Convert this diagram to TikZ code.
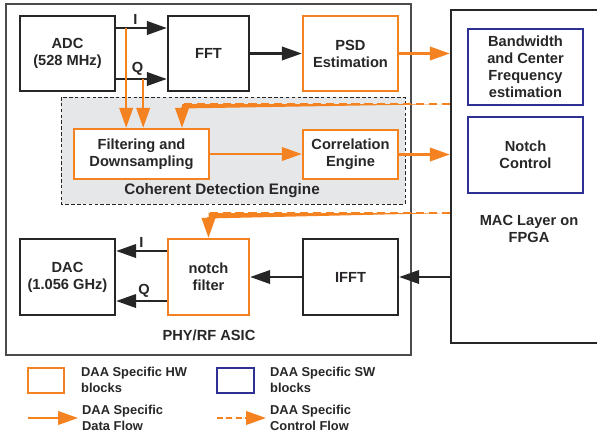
\documentclass[tikz,border=0pt]{standalone}
\usepackage{fontspec}
\setmainfont{Liberation Sans}
\usetikzlibrary{arrows.meta,positioning,calc}
\definecolor{daaorange}{RGB}{245,130,32}
\definecolor{daablue}{RGB}{46,49,146}
\definecolor{cdegray}{RGB}{230,231,232}
\definecolor{txtgray}{RGB}{40,38,40}

\begin{document}
\begin{tikzpicture}[x=0.03cm,y=-0.03cm,
  font=\fontsize{12.5}{14.5}\selectfont\bfseries,
  blk/.style={draw=black!85,line width=2pt,fill=white,align=center,text=txtgray},
  hw/.style={blk,draw=daaorange},
  sw/.style={blk,draw=daablue},
  sig/.style={-{Triangle[length=17pt,width=11.5pt]},line width=1.9pt,draw=black!85,fill=black!85},
  data/.style={-{Triangle[length=17pt,width=11.5pt]},line width=1.9pt,draw=daaorange,fill=daaorange},
  ctrl/.style={data,dash pattern=on 7pt off 4pt},
  lbl/.style={font=\fontsize{11}{14}\selectfont\bfseries,text=txtgray}]
  \useasboundingbox (0,0) rectangle (597,438);
  \clip (0,0) rectangle (597,438);

  % PHY/RF ASIC and coherent detection area
  \draw[black!70,line width=1pt] (6,4) rectangle (411,355);
  \node[text=txtgray] (asiclbl) at (209,335) {PHY/RF ASIC};
  \draw[black!85,line width=0.7pt,fill=cdegray,dash pattern=on 3pt off 2pt] (61,97) rectangle (405,204);
  \node[text=txtgray,font=\fontsize{13}{15}\selectfont\bfseries] (cdelbl) at (222,191) {Coherent Detection Engine};

  % Receive chain
  \node[blk,minimum width=2.85cm,minimum height=2.25cm] (adc) at (67.5,53.5) {ADC\\(528 MHz)};
  \node[blk,minimum width=2.43cm,minimum height=2.25cm] (fft) at (208.5,53.5) {FFT};
  \node[hw,minimum width=2.85cm,minimum height=2.25cm] (psd) at (350.5,53.5) {PSD\\Estimation};
  \node[hw,minimum width=4.05cm,minimum height=1.5cm] (filt) at (141.5,154) {Filtering and\\Downsampling};
  \node[hw,minimum width=2.85cm,minimum height=1.47cm] (corr) at (350.5,154.5) {Correlation\\Engine};

  % Transmit chain
  \node[blk,minimum width=2.85cm,minimum height=2.28cm] (dac) at (67.5,277) {DAC\\(1.056 GHz)};
  \node[hw,minimum width=2.43cm,minimum height=2.28cm] (notch) at (208.5,277) {notch\\filter};
  \node[blk,minimum width=2.85cm,minimum height=2.28cm] (ifft) at (350.5,277) {IFFT};

  % MAC layer
  \node[blk,minimum width=6cm,minimum height=9.99cm] (mac) at (551,176.5) {};
  \node[text=txtgray,align=center] (maclbl) at (529,229) {MAC Layer on\\FPGA};
  \node[sw,minimum width=3.45cm,minimum height=2.28cm] (bw) at (525.5,67) {Bandwidth\\and Center\\Frequency\\estimation};
  \node[sw,minimum width=3.45cm,minimum height=2.28cm] (nctl) at (525.5,155) {Notch\\Control};

  % I/Q from ADC
  \draw[sig] ($(adc.east)+(0,-25.5)$) -- ($(fft.west)+(0,-25.5)$) node[pos=0.38,above=-1pt,text=txtgray] {I};
  \draw[sig] ($(adc.east)+(0,25.5)$) -- ($(fft.west)+(0,25.5)$) node[pos=0.42,above=-1pt,text=txtgray] {Q};
  \coordinate (itap) at ($(adc.east)+(10,-25.5)$);
  \coordinate (qtap) at ($(adc.east)+(27,25.5)$);
  \draw[data] (itap) -- (itap |- filt.north);
  \draw[data] (qtap) -- (qtap |- filt.north);
  \draw[sig] (fft) -- (psd);
  \draw[data] (psd.east) -- (psd.east -| mac.west);
  \draw[data] (filt.east) -- (filt.east -| corr.west);
  \draw[data] (corr.east) -- (corr.east -| mac.west);

  % control from MAC
  \draw[ctrl] ($(mac.west)+(0,-72.5)$) -| ($(filt.north)+(40.5,0)$);
  \draw[ctrl] ($(mac.west)+(0,36.5)$) -| (notch.north);

  % I/Q to DAC
  \draw[sig] ($(notch.west)+(0,-26)$) -- ($(dac.east)+(0,-26)$) node[pos=0.5,above=-1pt,text=txtgray] {I};
  \draw[sig] ($(notch.west)+(0,24)$) -- ($(dac.east)+(0,24)$) node[pos=0.45,above=-1pt,text=txtgray] {Q};
  \draw[sig] (ifft) -- (notch);
  \draw[sig] (mac.west |- ifft) -- (ifft.east);

  % Legend
  \node[hw,minimum width=1.08cm,minimum height=0.75cm] (lhw) at (46,380.5) {};
  \node[lbl,anchor=west,align=left] (lhwtxt) at (77,380) {DAA Specific HW\\blocks};
  \node[sw,minimum width=1.1cm,minimum height=0.75cm] (lsw) at (235.5,380.5) {};
  \node[lbl,anchor=west,align=left] (lswtxt) at (266,380) {DAA Specific SW\\blocks};
  \coordinate (ldata) at (28,418);
  \coordinate (lctrl) at (217,418);
  \node[lbl,anchor=west,align=left] (ldatatxt) at (78,418) {DAA Specific\\Data Flow};
  \node[lbl,anchor=west,align=left] (lctrltxt) at (266,418) {DAA Specific\\Control Flow};
  \draw[data] (ldata) -- (ldata -| ldatatxt.west);
  \draw[ctrl,dash pattern=on 5pt off 3pt] (lctrl) -- (lctrl -| lctrltxt.west);
\end{tikzpicture}
\end{document}
